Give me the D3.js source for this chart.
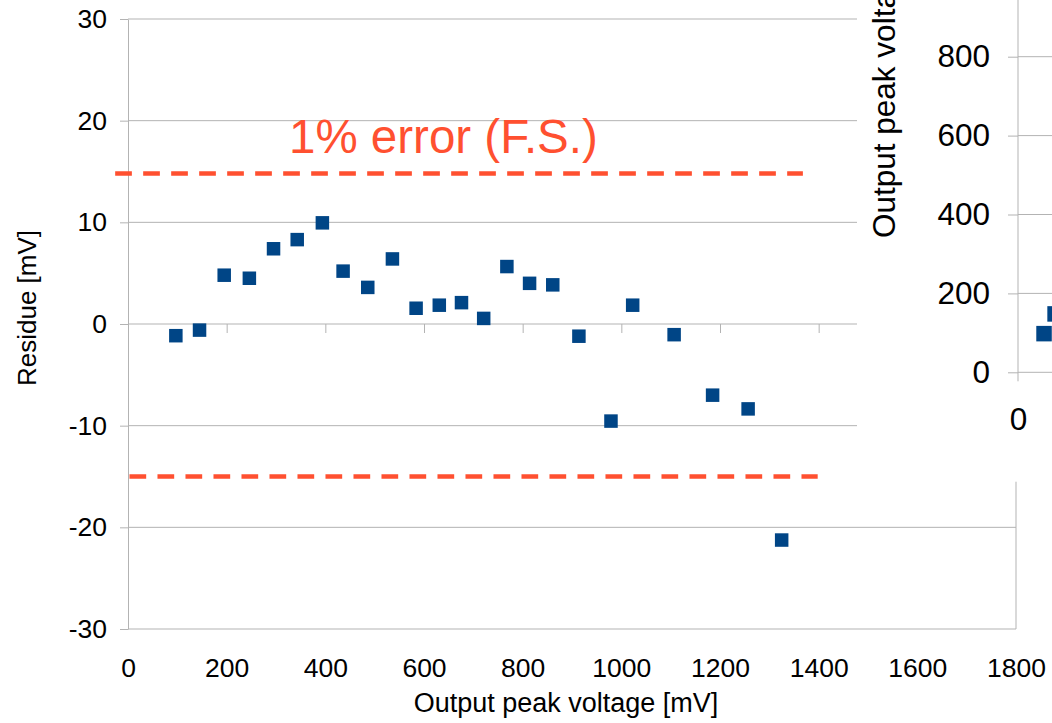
<!DOCTYPE html>
<meta charset="utf-8">
<head>
<style>
body { margin: 0; background: #fff; }
svg { display: block; font-family: "Liberation Sans", Arial, sans-serif; }
.grid line { stroke: #b3b3b3; stroke-width: 1; }
.axis path, .axis line { stroke: #b3b3b3; stroke-width: 1; }
.axis text { fill: #000; font-family: "Liberation Sans", Arial, sans-serif; }
.title { fill: #000; font-size: 26px; }
.err { stroke: #ff5030; stroke-width: 4.5; stroke-dasharray: 16.7 11.3; }
.errlabel { fill: #ff5030; font-size: 47.5px; }
.pt { fill: #004586; }
</style>
</head>
<body>
<svg width="1052" height="723"></svg>
<script src="https://cdn.jsdelivr.net/npm/d3@7"></script>
<script>

// residue chart data
var outputMv = [97, 145, 195, 246, 295, 343, 394, 436, 486, 536, 584, 631, 676, 721, 768, 814, 861, 914, 979, 1023, 1107, 1185, 1257, 1325],
    residueMv = [-1.15, -0.6, 4.8, 4.5, 7.4, 8.3, 9.95, 5.2, 3.6, 6.4, 1.55, 1.85, 2.1, 0.55, 5.65, 4.0, 3.85, -1.2, -9.55, 1.85, -1.05, -7.0, -8.35, -21.25];

var xTicks = [0, 200, 400, 600, 800, 1000, 1200, 1400, 1600, 1800],
    yTicks = [-30, -20, -10, 0, 10, 20, 30];

// 1% full-scale limits (drawn as shapes in the original)
var errLimits = [14.8, -15],
    errFrom = [-26, 3],
    errTo = [1368, 1398];

// partly hidden second chart on the right
var insetInput = [66, 94],
    insetOutput = [98, 148],
    insetYTicks = [0, 200, 400, 600, 800, 1000];

var plain = function(d) { return String(d); };

var svg = d3.select("svg");

var x = d3.scaleLinear().domain([0, 1800]).range([128, 1016]),
    y = d3.scaleLinear().domain([-30, 30]).range([629, 19]);

// grid
svg.append("g").attr("class", "grid")
  .selectAll("line")
    .data(yTicks)
  .enter().append("line")
    .attr("x1", x(0)).attr("x2", x(1800))
    .attr("y1", function(d) { return y(d); })
    .attr("y2", function(d) { return y(d); });

svg.append("line")
    .attr("x1", x(1800)).attr("x2", x(1800))
    .attr("y1", y(30)).attr("y2", y(-30))
    .style("stroke", "#b3b3b3");

// y axis
var yAxis = svg.append("g")
    .attr("class", "axis")
    .attr("transform", "translate(" + x(0) + ",0)")
    .call(d3.axisLeft(y).tickValues(yTicks).tickFormat(plain).tickSize(8).tickSizeOuter(0).tickPadding(13));
yAxis.selectAll("text").style("font-size", "26.5px");

// tick marks on zero line
svg.append("g")
    .attr("class", "axis")
    .attr("transform", "translate(0," + y(0) + ")")
    .call(d3.axisBottom(x).tickValues(xTicks.slice(1)).tickSize(9).tickFormat(""))
  .select(".domain").remove();

// x labels at bottom
var xAxis = svg.append("g")
    .attr("class", "axis")
    .attr("transform", "translate(0," + y(-30) + ")")
    .call(d3.axisBottom(x).tickValues(xTicks).tickFormat(plain).tickSize(0).tickPadding(29));
xAxis.select(".domain").remove();
xAxis.selectAll("text").style("font-size", "26.5px");

// error lines
svg.append("g").selectAll("line")
    .data(errLimits)
  .enter().append("line")
    .attr("class", "err")
    .attr("x1", function(d, i) { return x(errFrom[i]); })
    .attr("x2", function(d, i) { return x(errTo[i]); })
    .attr("y1", function(d) { return y(d); })
    .attr("y2", function(d) { return y(d); });

svg.append("text")
    .attr("class", "errlabel")
    .attr("x", 289)
    .attr("y", 153)
    .text("1% error (F.S.)");

// points
svg.append("g").selectAll("rect")
    .data(outputMv)
  .enter().append("rect")
    .attr("class", "pt")
    .attr("x", function(d) { return x(d) - 6.75; })
    .attr("y", function(d, i) { return y(residueMv[i]) - 6.75; })
    .attr("width", 13.5)
    .attr("height", 13.5);

// axis titles
svg.append("text")
    .attr("class", "title")
    .style("font-size", "27px")
    .attr("x", 566)
    .attr("y", 712)
    .attr("text-anchor", "middle")
    .text("Output peak voltage [mV]");

svg.append("text")
    .attr("class", "title")
    .attr("transform", "translate(36,308) rotate(-90)")
    .attr("text-anchor", "middle")
    .text("Residue [mV]");

// inset chart covering the upper right corner
var inset = svg.append("g");

inset.append("rect")
    .attr("x", 857).attr("y", 0)
    .attr("width", 200).attr("height", 481.7)
    .attr("fill", "#fff");

var iy = d3.scaleLinear().domain([0, 800]).range([372.3, 56.7]),
    ix = d3.scaleLinear().domain([0, 200]).range([1018, 1018 + 78.9]);

inset.append("g").attr("class", "grid")
  .selectAll("line")
    .data(insetYTicks)
  .enter().append("line")
    .attr("x1", ix(0)).attr("x2", 1060)
    .attr("y1", function(d) { return iy(d); })
    .attr("y2", function(d) { return iy(d); });

var iyAxis = inset.append("g")
    .attr("class", "axis")
    .attr("transform", "translate(" + ix(0) + ",0)")
    .call(d3.axisLeft(iy).tickValues(insetYTicks).tickFormat(plain).tickSize(10).tickSizeOuter(0).tickPadding(18));
iyAxis.select(".domain").remove();
iyAxis.selectAll("text").style("font-size", "31.5px");

inset.append("line")
    .attr("x1", ix(0)).attr("x2", ix(0))
    .attr("y1", -5).attr("y2", iy(0) + 9)
    .style("stroke", "#b3b3b3");

var ixAxis = inset.append("g")
    .attr("class", "axis")
    .attr("transform", "translate(0," + iy(0) + ")")
    .call(d3.axisBottom(ix).tickValues([0]).tickFormat(plain).tickSize(0).tickPadding(35));
ixAxis.select(".domain").remove();
ixAxis.selectAll("text").style("font-size", "31.5px");

inset.append("text")
    .attr("class", "title")
    .style("font-size", "31.5px")
    .attr("transform", "translate(895,238) rotate(-90)")
    .text("Output peak voltage [mV]");

inset.append("g").selectAll("rect")
    .data(insetInput)
  .enter().append("rect")
    .attr("class", "pt")
    .attr("x", function(d) { return ix(d) - 7.75; })
    .attr("y", function(d, i) { return iy(insetOutput[i]) - 7.75; })
    .attr("width", 15.5)
    .attr("height", 15.5);

</script>
</body>
